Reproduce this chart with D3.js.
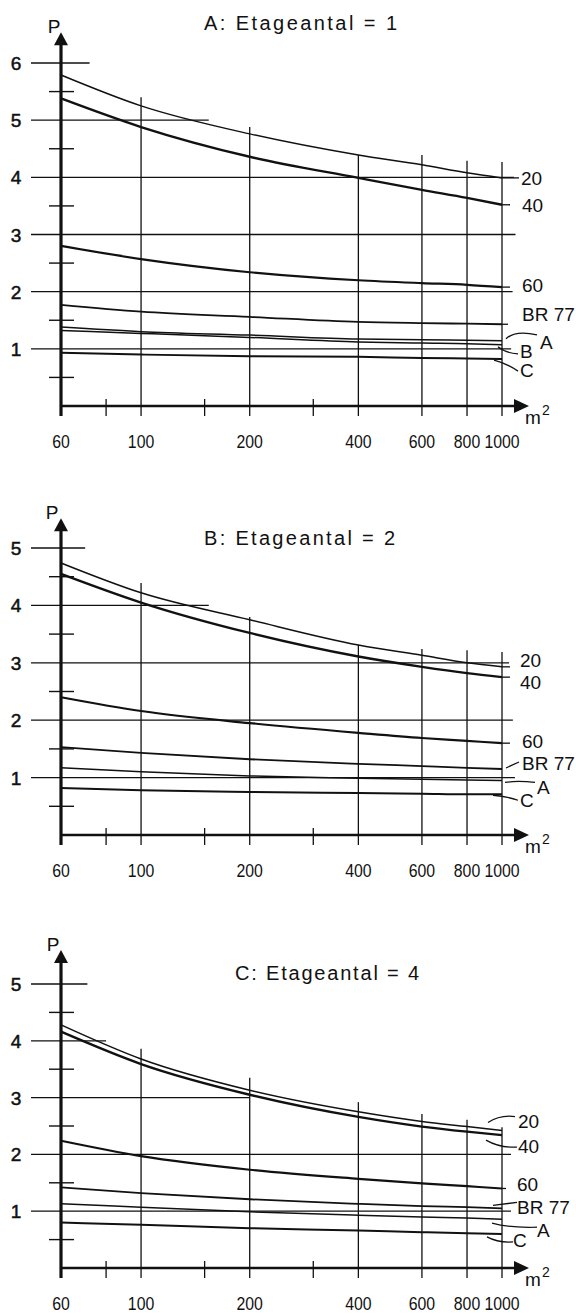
<!DOCTYPE html>
<html><head><meta charset="utf-8">
<script src="https://cdn.jsdelivr.net/npm/d3@7"></script>
<style>
body{margin:0;background:#fff}
svg{display:block}
text{font-family:"Liberation Sans",Arial,sans-serif;fill:#111}
</style>
</head><body>
<svg id="chart" width="576" height="1316"></svg>
<script>
// ---------- data ----------
const areas = [60, 100, 200, 400, 600, 800, 1000];          // m²
const gridAreas = [100, 200, 400, 600, 800, 1000];
const minorAreas = [80, 150, 300];
const xTickLabels = ["60", "100", "200", "400", "600", "800", "1000"];
const panelTitles = ["A: Etageantal = 1", "B: Etageantal = 2", "C: Etageantal = 4"];
const yTicksA = [1, 2, 3, 4, 5, 6];
const yTicksB = [1, 2, 3, 4, 5];
const yTicksC = [1, 2, 3, 4, 5];

// Panel A: Etageantal = 1
const a20   = [5.79, 5.25, 4.76, 4.39, 4.22, 4.08, 3.99];
const a40   = [5.38, 4.88, 4.36, 3.99, 3.78, 3.64, 3.52];
const a60   = [2.80, 2.57, 2.34, 2.20, 2.15, 2.12, 2.08];
const aBR77 = [1.77, 1.65, 1.56, 1.47, 1.45, 1.44, 1.43];
const aA    = [1.38, 1.30, 1.24, 1.17, 1.16, 1.15, 1.14];
const aB    = [1.32, 1.27, 1.20, 1.12, 1.10, 1.09, 1.07];
const aC    = [0.93, 0.90, 0.87, 0.86, 0.84, 0.83, 0.82];

// Panel B: Etageantal = 2
const b20   = [4.74, 4.22, 3.75, 3.31, 3.13, 3.00, 2.93];
const b40   = [4.55, 4.05, 3.52, 3.11, 2.93, 2.82, 2.75];
const b60   = [2.40, 2.16, 1.95, 1.78, 1.69, 1.64, 1.60];
const bBR77 = [1.53, 1.43, 1.32, 1.24, 1.20, 1.17, 1.15];
const bA    = [1.17, 1.10, 1.03, 0.99, 0.97, 0.96, 0.95];
const bC    = [0.82, 0.78, 0.75, 0.73, 0.72, 0.71, 0.71];

// Panel C: Etageantal = 4
const c20   = [4.28, 3.68, 3.13, 2.75, 2.58, 2.49, 2.42];
const c40   = [4.16, 3.59, 3.05, 2.66, 2.49, 2.40, 2.34];
const c60   = [2.24, 1.97, 1.73, 1.57, 1.49, 1.44, 1.40];
const cBR77 = [1.42, 1.32, 1.21, 1.13, 1.09, 1.07, 1.05];
const cA    = [1.13, 1.07, 0.99, 0.93, 0.90, 0.88, 0.86];
const cC    = [0.80, 0.76, 0.70, 0.66, 0.63, 0.61, 0.60];

// ---------- layout / style ----------
const svg = d3.select("#chart");
const x = d3.scaleLog().domain([60, 1000]).range([61, 502]);
const ink = "#111";
const widths = {"20":1.5, "40":2.4, "60":2.2, "BR 77":1.8, "A":1.5, "B":1.5, "C":2.0};

const panels = [
  { title: panelTitles[0], ticks: yTicksA, vTop: 6, y0: 406, yTop: 63, arrowV: 6.54,
    titleX: 204, titleY: 30, titleW: 193, pX: 54,
    hEnd: {6: 72, 5: 154, 4: 1080, 3: 1090, 2: 1070, 1: 1060},
    vTopV: {100: 5.40, 200: 4.88, 400: 4.39, 600: 4.39, 800: 4.29, 1000: 4.27},
    series: [
      {n:"20", v:a20, lx:521, dy:0, lead:"M0,0 L17,0"},
      {n:"40", v:a40, lx:522, dy:0, lead:"M0,0 L8,0"},
      {n:"60", v:a60, lx:522, dy:-2, lead:"M0,0 L8,0"},
      {n:"BR 77", v:aBR77, lx:522, dy:-10, lead:"M0,0 L6,0"},
      {n:"A", v:aA, lx:540, dy:1, lead:"M4,-2 Q13,-11 35,-6"},
      {n:"B", v:aB, lx:520, dy:6, lead:"M-4,2 Q3,8 16,9"},
      {n:"C", v:aC, lx:520, dy:11, lead:"M-8,1 Q4,4 16,12"}
    ]},
  { title: panelTitles[1], ticks: yTicksB, vTop: 5, y0: 835, yTop: 548, arrowV: 5.52,
    titleX: 204, titleY: 545, titleW: 191, pX: 52,
    hEnd: {5: 70, 4: 154, 3: 1046, 2: 1072, 1: 1086},
    vTopV: {100: 4.39, 200: 3.80, 400: 3.31, 600: 3.24, 800: 3.22, 1000: 3.19},
    series: [
      {n:"20", v:b20, lx:520, dy:-7, lead:"M0,0 L8,0"},
      {n:"40", v:b40, lx:520, dy:5, lead:"M0,0 L8,0"},
      {n:"60", v:b60, lx:522, dy:-2, lead:"M0,0 L8,0"},
      {n:"BR 77", v:bBR77, lx:522, dy:-6, lead:"M4,-1 L17,-7"},
      {n:"A", v:bA, lx:537, dy:7, lead:"M3,2 Q15,0 33,2"},
      {n:"C", v:bC, lx:520, dy:6, lead:"M-9,1 Q4,2 16,6"}
    ]},
  { title: panelTitles[2], ticks: yTicksC, vTop: 5, y0: 1268, yTop: 984, arrowV: 5.6,
    titleX: 235, titleY: 980, titleW: 184, pX: 53,
    hEnd: {5: 71, 4: 80, 3: 200, 2: 1059, 1: 1059},
    vTopV: {100: 3.86, 200: 3.35, 400: 2.92, 600: 2.71, 800: 2.61, 1000: 2.48},
    series: [
      {n:"20", v:c20, lx:518, dy:-10, lead:"M-14,-8 Q-2,-16 13,-14"},
      {n:"40", v:c40, lx:518, dy:11, lead:"M-16,5 Q-2,13 15,12"},
      {n:"60", v:c60, lx:517, dy:-4, lead:"M0,0 L4,0"},
      {n:"BR 77", v:cBR77, lx:517, dy:-1, lead:"M-9,-3 L15,-6"},
      {n:"A", v:cA, lx:537, dy:11, lead:"M-10,4 Q8,9 35,8"},
      {n:"C", v:cC, lx:513, dy:6, lead:"M-15,3 Q-4,9 11,8"}
    ]}
];

panels.forEach(P => {
  const g = svg.append("g");
  const y = d3.scaleLinear().domain([0, P.vTop]).range([P.y0, P.yTop]);
  const x0 = x(60);

  // horizontal grid lines
  P.ticks.forEach(v => {
    g.append("line").attr("x1", x0 - 30).attr("x2", x(P.hEnd[v]))
      .attr("y1", y(v)).attr("y2", y(v))
      .attr("stroke", ink).attr("stroke-width", 1.3);
    g.append("text").attr("x", 16).attr("y", y(v) + 7)
      .attr("text-anchor", "middle").attr("font-size", 19)
      .attr("stroke", ink).attr("stroke-width", 0.5)
      .text(v);
  });
  // minor y ticks
  d3.range(0.5, P.vTop, 1).forEach(v => {
    g.append("line").attr("x1", x0 - 12).attr("x2", x0 + 13)
      .attr("y1", y(v)).attr("y2", y(v))
      .attr("stroke", ink).attr("stroke-width", 1.4);
  });
  // vertical grid lines
  gridAreas.forEach(a => {
    g.append("line").attr("x1", x(a)).attr("x2", x(a))
      .attr("y1", y(P.vTopV[a])).attr("y2", P.y0 + 10)
      .attr("stroke", ink).attr("stroke-width", 1.3);
  });
  // minor x ticks
  minorAreas.forEach(a => {
    g.append("line").attr("x1", x(a)).attr("x2", x(a))
      .attr("y1", P.y0 - 7).attr("y2", P.y0 + 10)
      .attr("stroke", ink).attr("stroke-width", 1.3);
  });
  // x tick labels (narrow technical lettering)
  areas.forEach((a, i) => {
    const t = xTickLabels[i];
    g.append("text").attr("x", x(a)).attr("y", P.y0 + 42)
      .attr("text-anchor", "middle").attr("font-size", 19)
      .attr("textLength", t.length * 8.8).attr("lengthAdjust", "spacingAndGlyphs")
      .text(t);
  });
  // x axis with arrow
  const xe = x(1000);
  g.append("line").attr("x1", x0).attr("x2", xe + 16)
    .attr("y1", P.y0).attr("y2", P.y0)
    .attr("stroke", ink).attr("stroke-width", 2.6);
  g.append("path").attr("d", `M${xe + 12},${P.y0 - 7} L${xe + 27},${P.y0} L${xe + 12},${P.y0 + 7} Z`)
    .attr("fill", ink);
  g.append("text").attr("x", xe + 23).attr("y", P.y0 + 18).attr("font-size", 19).text("m");
  g.append("text").attr("x", xe + 40).attr("y", P.y0 + 9).attr("font-size", 14).text("2");
  // y axis with arrow
  const ya = y(P.arrowV);
  g.append("line").attr("x1", x0).attr("x2", x0)
    .attr("y1", P.y0 + 10).attr("y2", ya + 10)
    .attr("stroke", ink).attr("stroke-width", 3.2);
  g.append("path").attr("d", `M${x0 - 7},${ya + 13} L${x0},${ya} L${x0 + 7},${ya + 13} Z`)
    .attr("fill", ink);
  g.append("text").attr("x", P.pX).attr("y", ya + 1)
    .attr("text-anchor", "middle").attr("font-size", 19).text("P");
  // title
  g.append("text").attr("x", P.titleX).attr("y", P.titleY)
    .attr("font-size", 20).attr("textLength", P.titleW).attr("lengthAdjust", "spacing")
    .text(P.title);

  // curves
  const line = d3.line().x(d => x(d.a)).y(d => y(d.v)).curve(d3.curveMonotoneX);
  P.series.forEach(s => {
    const pts = areas.map((a, i) => ({a, v: s.v[i]}));
    g.append("path").attr("d", line(pts))
      .attr("fill", "none").attr("stroke", ink)
      .attr("stroke-width", widths[s.n]);
    const ex = x(1000), ey = y(s.v[s.v.length - 1]);
    g.append("path").attr("d", s.lead)
      .attr("transform", `translate(${ex},${ey})`)
      .attr("fill", "none").attr("stroke", ink).attr("stroke-width", 1.3);
    g.append("text").attr("x", s.lx).attr("y", ey + s.dy + 7)
      .attr("font-size", 19).text(s.n);
  });
});
</script>
</body></html>
